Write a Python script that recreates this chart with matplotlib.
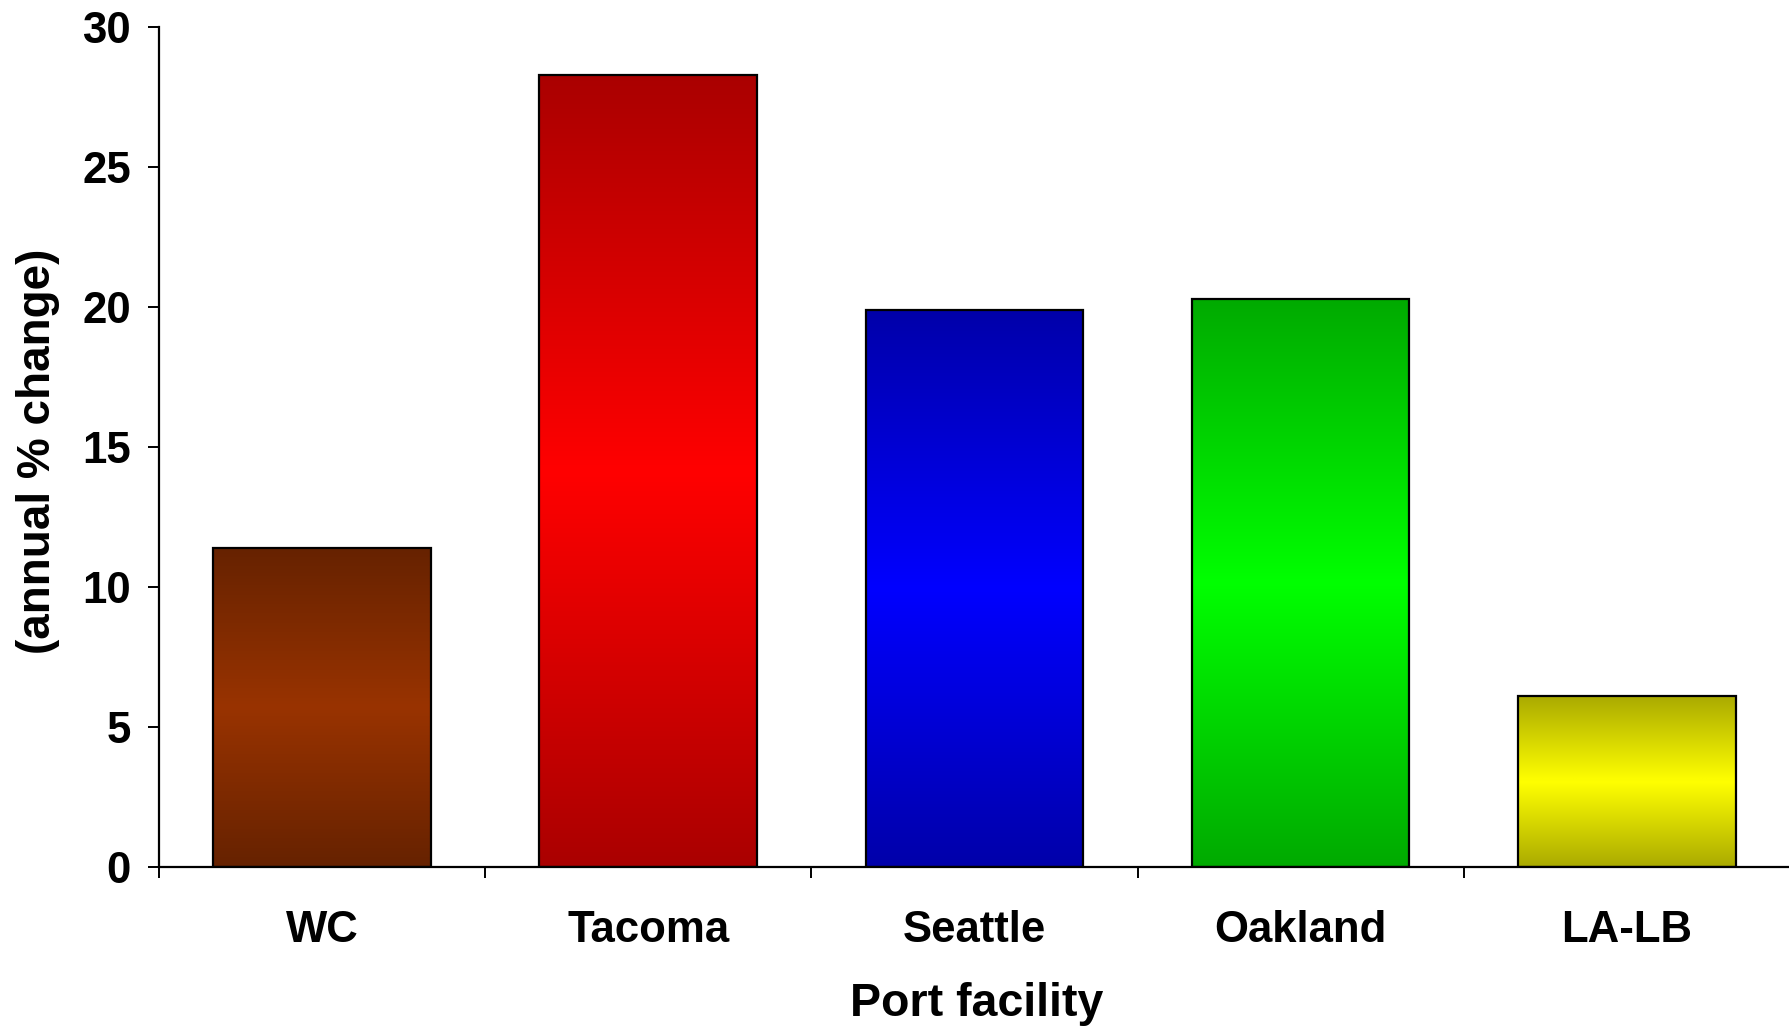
import numpy as np
import matplotlib
matplotlib.use("Agg")
import matplotlib.pyplot as plt
from matplotlib.colors import LinearSegmentedColormap

# Data
ports = ["WC", "Tacoma", "Seattle", "Oakland", "LA-LB"]
annual_change = [11.4, 28.3, 19.9, 20.3, 6.1]
yticks = [0, 5, 10, 15, 20, 25, 30]

# Gradient colours: (edge shade, centre shade) for each bar
bar_edges = ["#662200", "#aa0000", "#0000aa", "#00aa00", "#aaaa00"]
bar_centres = ["#993300", "#ff0000", "#0000ff", "#00ff00", "#ffff00"]

plt.rcParams["font.family"] = ["Liberation Sans", "DejaVu Sans"]
plt.rcParams["font.weight"] = "bold"

fig = plt.figure(figsize=(17.9, 10.26), dpi=100)
ax = fig.add_axes([0.0887, 0.1550, 0.9113, 0.8183])

x = np.arange(len(ports)) + 0.5
bars = ax.bar(x, annual_change, width=0.667, facecolor="none",
              edgecolor="black", linewidth=1.6, zorder=3)

# Vertical "middle-out" gradient fill clipped to each bar
grad = np.abs(np.linspace(-1, 1, 256))[:, None]
for bar, c_edge, c_mid in zip(bars, bar_edges, bar_centres):
    cmap = LinearSegmentedColormap.from_list("g", [c_mid, c_edge])
    bx, by = bar.get_x(), bar.get_y()
    bw, bh = bar.get_width(), bar.get_height()
    im = ax.imshow(grad, cmap=cmap, vmin=0, vmax=1, aspect="auto",
                   extent=(bx, bx + bw, by, by + bh), origin="lower",
                   interpolation="bilinear", zorder=2)
    im.set_clip_path(bar)

ax.set_xlim(0, len(ports))
ax.set_ylim(0, 30)

for side in ("top", "right"):
    ax.spines[side].set_visible(False)
ax.spines["left"].set_linewidth(1.6)
ax.spines["bottom"].set_linewidth(1.6)
ax.spines["left"].set_zorder(4)
ax.spines["bottom"].set_zorder(4)

ax.set_yticks(yticks)
ax.set_yticklabels([str(t) for t in yticks], fontsize=31.5, fontweight="bold")
ax.tick_params(axis="y", direction="out", length=8, width=1.4, pad=12)

# Category boundaries carry the tick marks; labels sit between them
ax.set_xticks(np.arange(len(ports) + 1))
ax.set_xticklabels([""] * (len(ports) + 1))
ax.tick_params(axis="x", which="major", direction="out", length=8, width=1.4)
ax.set_xticks(x, minor=True)
ax.set_xticklabels(ports, minor=True, fontsize=31.5, fontweight="bold")
ax.tick_params(axis="x", which="minor", length=0, pad=31)

fig.text(0.0211, 0.5604, "(annual % change)", rotation=90, ha="center",
         va="center", fontsize=33, fontweight="bold")
fig.text(0.5458, 0.0097, "Port facility", ha="center", va="baseline",
         fontsize=33.5, fontweight="bold")

fig.savefig("out.png", dpi=100)
